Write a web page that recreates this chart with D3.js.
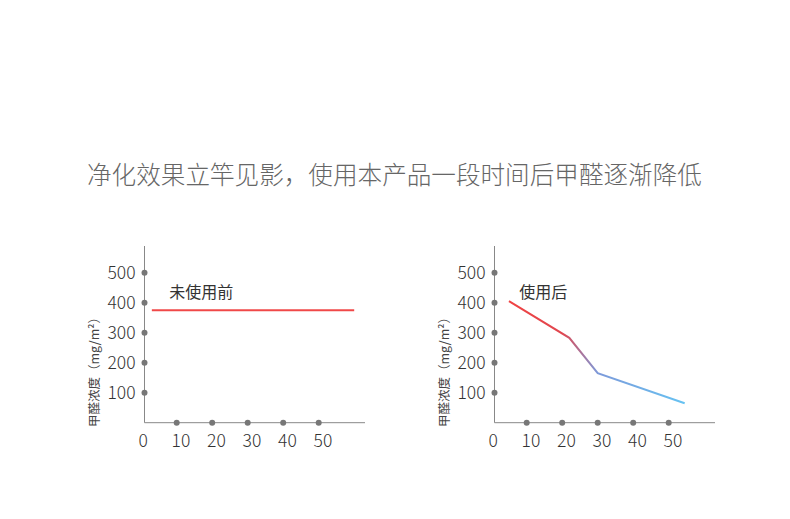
<!DOCTYPE html>
<html><head><meta charset="utf-8">
<script src="https://cdn.jsdelivr.net/npm/d3@7"></script>
<style>
html,body{margin:0;padding:0;background:#fff;}
svg{display:block;font-family:"Noto Sans CJK SC","Noto Sans",sans-serif;}
</style></head>
<body>
<svg id="c" width="790" height="519"></svg>
<script>
const title = "净化效果立竿见影，使用本产品一段时间后甲醛逐渐降低";
const yAxisTitle = "甲醛浓度（mg/m²）";
const xTicks = [10, 20, 30, 40, 50];
const xTickLabels = ["0", "10", "20", "30", "40", "50"];
const yTicks = [100, 200, 300, 400, 500];
const beforeLabel = "未使用前";
const afterLabel = "使用后";
const beforeX = [3, 60];
const beforeY = [375, 375];
const afterX = [5, 22, 30, 54.5];
const afterY = [405, 283, 165, 65];

const svg = d3.select("#c");

svg.append("text").attr("x", 87).attr("y", 184)
  .attr("font-size", 24.6).attr("font-weight", 300).attr("fill", "#666")
  .text(title);

const defs = svg.append("defs");

function panel(ox, label, xs, ys, gradId) {
  const g = svg.append("g").attr("transform", `translate(${ox},0)`);
  const x = d3.scaleLinear().domain([0, 60]).range([141.2, 354.2]);
  const y = d3.scaleLinear().domain([0, 500]).range([422.7, 272.7]);
  const axisColor = "#888";
  g.append("line").attr("x1", 144.5).attr("x2", 144.5).attr("y1", 246).attr("y2", y(0))
    .attr("stroke", axisColor).attr("stroke-width", 1);
  g.append("line").attr("x1", 144.5).attr("x2", 365).attr("y1", y(0)).attr("y2", y(0))
    .attr("stroke", axisColor).attr("stroke-width", 1);
  g.selectAll(".yd").data(yTicks).enter().append("circle")
    .attr("cx", 144.5).attr("cy", d => y(d)).attr("r", 3).attr("fill", "#777");
  g.selectAll(".yl").data(yTicks).enter().append("text")
    .attr("x", 135.5).attr("y", d => y(d) + 6.2).attr("text-anchor", "end")
    .attr("font-size", 17.5).attr("font-weight", 300).attr("fill", "#333").text(d => d);
  g.selectAll(".xd").data(xTicks).enter().append("circle")
    .attr("cx", d => x(d)).attr("cy", y(0)).attr("r", 3).attr("fill", "#777");
  g.selectAll(".xl").data(xTickLabels).enter().append("text")
    .attr("x", (d, i) => i === 0 ? 143.3 : x(+d) + 4.2).attr("y", 447).attr("text-anchor", "middle")
    .attr("font-size", 17.5).attr("font-weight", 300).attr("fill", "#333").text(d => d);
  g.append("text").attr("transform", `translate(${99},${369}) rotate(-90)`)
    .attr("text-anchor", "middle").attr("font-size", 12.5).attr("fill", "#444")
    .text(yAxisTitle);
  g.append("text").attr("x", 169.3).attr("y", 298).attr("font-size", 16).attr("fill", "#333").text(label);
  const pts = xs.map((v, i) => [v, ys[i]]);
  const line = d3.line().x(d => x(d[0])).y(d => y(d[1]));
  let stroke = "#f04848";
  if (gradId) {
    const gr = defs.append("linearGradient").attr("id", gradId)
      .attr("gradientUnits", "userSpaceOnUse")
      .attr("x1", x(xs[0])).attr("x2", x(xs[xs.length - 1])).attr("y1", 0).attr("y2", 0);
    const span = xs[xs.length - 1] - xs[0];
    const stops = [[0, "#f04343"], [(20 - xs[0]) / span, "#e0464f"], [(30 - xs[0]) / span, "#7d9ada"], [1, "#66c2f2"]];
    gr.selectAll("stop").data(stops).enter().append("stop")
      .attr("offset", d => d[0]).attr("stop-color", d => d[1]);
    stroke = `url(#${gradId})`;
  }
  g.append("path").datum(pts).attr("d", line).attr("fill", "none")
    .attr("stroke", stroke).attr("stroke-width", 2);
}

panel(0, beforeLabel, beforeX, beforeY, null);
panel(350, afterLabel, afterX, afterY, "grad");
</script>
</body></html>
